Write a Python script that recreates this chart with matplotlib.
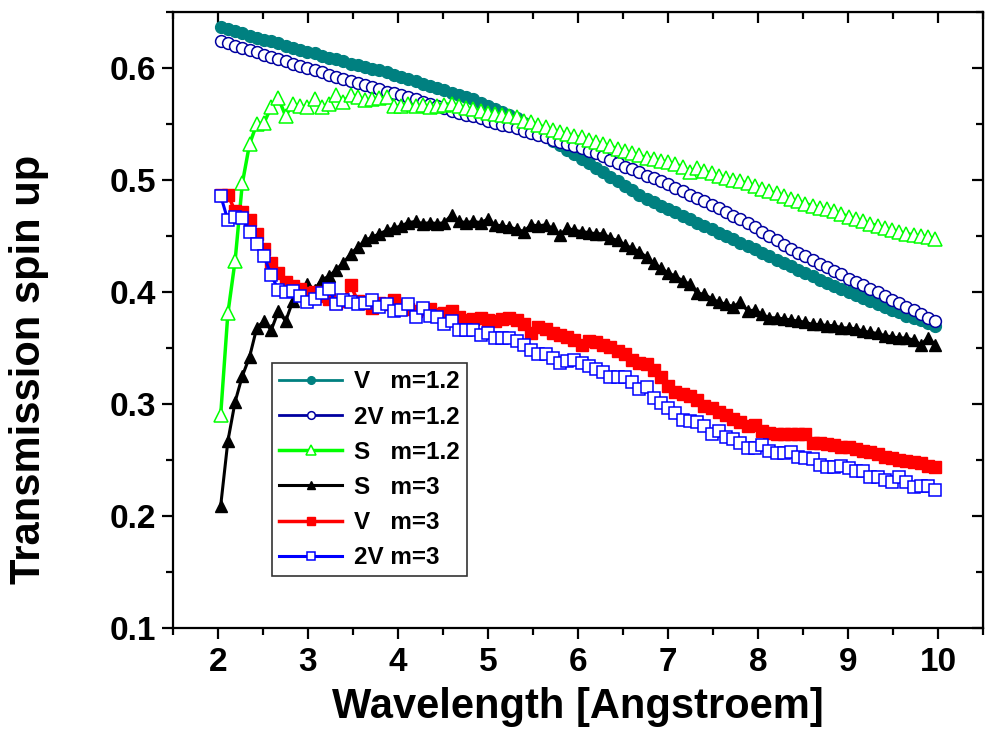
import numpy as np
import matplotlib
matplotlib.use("Agg")
import matplotlib.pyplot as plt
from matplotlib.ticker import MultipleLocator

plt.rcParams['font.family'] = ['Liberation Sans', 'DejaVu Sans']
plt.rcParams['font.weight'] = 'bold'

# wavelength grid (100 samples between ~2 and ~10 Angstroem)
wavelength = np.linspace(2.03, 9.97, 100)

v_m12 = [0.637, 0.635, 0.633, 0.631, 0.629, 0.627, 0.625, 0.624, 0.622, 0.620,
         0.618, 0.616, 0.614, 0.613, 0.611, 0.609, 0.608, 0.606, 0.604, 0.603,
         0.601, 0.599, 0.598, 0.596, 0.594, 0.592, 0.590, 0.588, 0.586, 0.584,
         0.582, 0.580, 0.578, 0.576, 0.574, 0.572, 0.569, 0.566, 0.563, 0.561,
         0.558, 0.555, 0.551, 0.547, 0.543, 0.539, 0.535, 0.531, 0.527, 0.523,
         0.519, 0.515, 0.511, 0.507, 0.503, 0.499, 0.495, 0.491, 0.487, 0.483,
         0.480, 0.477, 0.474, 0.471, 0.468, 0.465, 0.462, 0.459, 0.456, 0.453,
         0.450, 0.447, 0.444, 0.441, 0.438, 0.435, 0.432, 0.429, 0.426, 0.423,
         0.420, 0.417, 0.414, 0.411, 0.408, 0.405, 0.403, 0.400, 0.397, 0.395,
         0.392, 0.389, 0.387, 0.384, 0.382, 0.379, 0.377, 0.375, 0.372, 0.370]

v2_m12 = [0.624, 0.622, 0.620, 0.618, 0.616, 0.614, 0.612, 0.610, 0.608, 0.606,
          0.604, 0.602, 0.600, 0.598, 0.596, 0.594, 0.592, 0.590, 0.588, 0.587,
          0.585, 0.583, 0.581, 0.579, 0.578, 0.576, 0.574, 0.572, 0.570, 0.568,
          0.566, 0.564, 0.562, 0.560, 0.558, 0.557, 0.555, 0.553, 0.551, 0.549,
          0.548, 0.546, 0.544, 0.542, 0.540, 0.538, 0.536, 0.534, 0.532, 0.530,
          0.529, 0.526, 0.524, 0.521, 0.518, 0.515, 0.512, 0.510, 0.507, 0.504,
          0.502, 0.499, 0.496, 0.493, 0.490, 0.487, 0.484, 0.481, 0.478, 0.475,
          0.471, 0.468, 0.465, 0.462, 0.458, 0.454, 0.450, 0.446, 0.442, 0.438,
          0.435, 0.432, 0.429, 0.425, 0.422, 0.419, 0.416, 0.412, 0.409, 0.406,
          0.403, 0.400, 0.396, 0.393, 0.390, 0.387, 0.384, 0.380, 0.377, 0.374]

s_m12 = [0.290, 0.381, 0.428, 0.497, 0.532, 0.550, 0.551, 0.565, 0.573, 0.557,
         0.568, 0.566, 0.565, 0.572, 0.565, 0.568, 0.576, 0.570, 0.576, 0.574,
         0.571, 0.572, 0.573, 0.574, 0.566, 0.566, 0.568, 0.566, 0.567, 0.565,
         0.566, 0.567, 0.568, 0.566, 0.564, 0.563, 0.562, 0.560, 0.559, 0.558,
         0.557, 0.556, 0.553, 0.552, 0.549, 0.547, 0.545, 0.543, 0.541, 0.539,
         0.538, 0.536, 0.534, 0.532, 0.530, 0.528, 0.526, 0.524, 0.522, 0.520,
         0.519, 0.517, 0.516, 0.514, 0.512, 0.507, 0.511, 0.508, 0.506, 0.504,
         0.502, 0.500, 0.499, 0.497, 0.495, 0.492, 0.490, 0.488, 0.486, 0.483,
         0.481, 0.479, 0.477, 0.475, 0.474, 0.472, 0.470, 0.467, 0.465, 0.463,
         0.461, 0.459, 0.457, 0.455, 0.454, 0.452, 0.451, 0.450, 0.449, 0.447]

s_m3 = [0.209, 0.267, 0.302, 0.325, 0.342, 0.368, 0.374, 0.366, 0.383, 0.374,
        0.392, 0.398, 0.407, 0.402, 0.411, 0.414, 0.420, 0.426, 0.434, 0.440,
        0.446, 0.449, 0.452, 0.455, 0.457, 0.459, 0.462, 0.463, 0.461, 0.462,
        0.461, 0.462, 0.469, 0.463, 0.462, 0.463, 0.462, 0.465, 0.460, 0.459,
        0.458, 0.456, 0.454, 0.460, 0.459, 0.460, 0.457, 0.451, 0.457, 0.455,
        0.454, 0.453, 0.452, 0.452, 0.448, 0.446, 0.442, 0.439, 0.436, 0.431,
        0.426, 0.421, 0.417, 0.414, 0.410, 0.407, 0.399, 0.398, 0.394, 0.391,
        0.389, 0.387, 0.391, 0.383, 0.384, 0.380, 0.377, 0.377, 0.376, 0.375,
        0.374, 0.373, 0.371, 0.371, 0.370, 0.370, 0.368, 0.368, 0.367, 0.365,
        0.364, 0.363, 0.361, 0.360, 0.359, 0.359, 0.357, 0.353, 0.359, 0.353]

v_m3 = [0.487, 0.487, 0.472, 0.471, 0.464, 0.452, 0.438, 0.426, 0.417, 0.409,
        0.405, 0.403, 0.399, 0.400, 0.396, 0.394, 0.390, 0.392, 0.406, 0.392,
        0.390, 0.386, 0.390, 0.389, 0.393, 0.388, 0.385, 0.383, 0.385, 0.385,
        0.380, 0.381, 0.383, 0.378, 0.375, 0.376, 0.377, 0.375, 0.374, 0.376,
        0.377, 0.375, 0.371, 0.363, 0.369, 0.367, 0.363, 0.362, 0.360, 0.357,
        0.353, 0.356, 0.355, 0.353, 0.351, 0.347, 0.345, 0.339, 0.337, 0.336,
        0.330, 0.324, 0.316, 0.311, 0.309, 0.307, 0.304, 0.298, 0.296, 0.293,
        0.290, 0.287, 0.284, 0.280, 0.281, 0.276, 0.274, 0.273, 0.273, 0.273,
        0.273, 0.273, 0.265, 0.265, 0.264, 0.263, 0.262, 0.262, 0.260, 0.258,
        0.257, 0.255, 0.253, 0.252, 0.250, 0.249, 0.248, 0.247, 0.245, 0.244]

v2_m3 = [0.486, 0.464, 0.467, 0.466, 0.454, 0.443, 0.432, 0.415, 0.402, 0.400,
         0.401, 0.396, 0.391, 0.394, 0.399, 0.403, 0.389, 0.393, 0.391, 0.389,
         0.390, 0.393, 0.387, 0.389, 0.383, 0.384, 0.389, 0.378, 0.386, 0.379,
         0.378, 0.371, 0.374, 0.366, 0.366, 0.366, 0.362, 0.363, 0.359, 0.359,
         0.359, 0.356, 0.353, 0.348, 0.345, 0.345, 0.341, 0.337, 0.338, 0.339,
         0.337, 0.334, 0.331, 0.329, 0.324, 0.324, 0.324, 0.320, 0.313, 0.315,
         0.305, 0.301, 0.296, 0.292, 0.286, 0.285, 0.284, 0.280, 0.273, 0.276,
         0.271, 0.269, 0.265, 0.261, 0.261, 0.263, 0.258, 0.256, 0.256, 0.257,
         0.253, 0.252, 0.251, 0.246, 0.244, 0.244, 0.245, 0.243, 0.240, 0.240,
         0.235, 0.235, 0.232, 0.230, 0.235, 0.230, 0.226, 0.227, 0.227, 0.223]

fig = plt.figure(figsize=(9.85, 7.49), dpi=100)
ax = fig.add_axes([0.1756, 0.1615, 0.8224, 0.8225])

ax.plot(wavelength, v_m12, '-o', color='#008080', lw=2, ms=8.5, mec='#008080', mfc='#008080',
        label='V   m=1.2')
ax.plot(wavelength, v2_m12, '-o', color='#0000A0', lw=2, ms=8.5, mec='#0000A0', mfc='white',
        mew=1.1, label='2V m=1.2')
ax.plot(wavelength, s_m12, '-^', color='#00FF00', lw=2.5, ms=10, mec='#00FF00', mfc='white',
        mew=1.1, label='S   m=1.2')
ax.plot(wavelength, s_m3, '-^', color='black', lw=2.2, ms=9, mec='black', mfc='black',
        label='S   m=3')
ax.plot(wavelength, v_m3, '-s', color='#FF0000', lw=2.5, ms=8.5, mec='#FF0000', mfc='#FF0000',
        label='V   m=3')
ax.plot(wavelength, v2_m3, '-s', color='#0000FF', lw=2.2, ms=8.5, mec='#0000FF', mfc='white',
        mew=1.1, label='2V m=3')

ax.set_xlim(1.5, 10.5)
ax.set_ylim(0.1, 0.65)
ax.xaxis.set_major_locator(MultipleLocator(1))
ax.xaxis.set_minor_locator(MultipleLocator(0.5))
ax.yaxis.set_minor_locator(MultipleLocator(0.05))
ax.set_yticks([0.1, 0.2, 0.3, 0.4, 0.5, 0.6])
ax.set_yticklabels(['0.1', '0.2', '0.3', '0.4', '0.5', '0.6'])

for s in ax.spines.values():
    s.set_linewidth(1.6)

ax.tick_params(axis='both', which='major', direction='out', length=8, width=1.6,
               labelsize=24, top=False, right=False)
ax.tick_params(axis='both', which='minor', direction='out', length=5, width=1.6,
               top=False, right=False)
ax.tick_params(axis='y', which='both', pad=4)
ax.tick_params(axis='x', which='both', pad=6)

# inward ticks on top and right
ax2 = ax.secondary_xaxis('top')
ax2.xaxis.set_major_locator(MultipleLocator(1))
ax2.xaxis.set_minor_locator(MultipleLocator(0.5))
ax2.tick_params(which='major', direction='in', length=8, width=1.6, labeltop=False)
ax2.tick_params(which='minor', direction='in', length=5, width=1.6)
ax3 = ax.secondary_yaxis('right')
ax3.yaxis.set_major_locator(MultipleLocator(0.1))
ax3.yaxis.set_minor_locator(MultipleLocator(0.05))
ax3.tick_params(which='major', direction='in', length=8, width=1.6, labelright=False)
ax3.tick_params(which='minor', direction='in', length=5, width=1.6)

for lab in ax.get_xticklabels() + ax.get_yticklabels():
    lab.set_fontweight('bold')

ax.set_xlabel('Wavelength [Angstroem]', fontsize=30, fontweight='bold', labelpad=6)
ax.set_ylabel('Transmission spin up', fontsize=30, fontweight='bold')
ax.yaxis.set_label_coords(-0.153, 0.42)

leg = ax.legend(loc='upper left', bbox_to_anchor=(0.122, 0.43), fontsize=17.5,
                frameon=True, fancybox=False, edgecolor='black', handlelength=2.6,
                handletextpad=0.5, labelspacing=0.5, borderpad=0.3, markerscale=0.65,
                borderaxespad=0)
leg.get_frame().set_linewidth(1.2)
for t in leg.get_texts():
    t.set_fontweight('bold')

fig.savefig('out.png', dpi=100)
